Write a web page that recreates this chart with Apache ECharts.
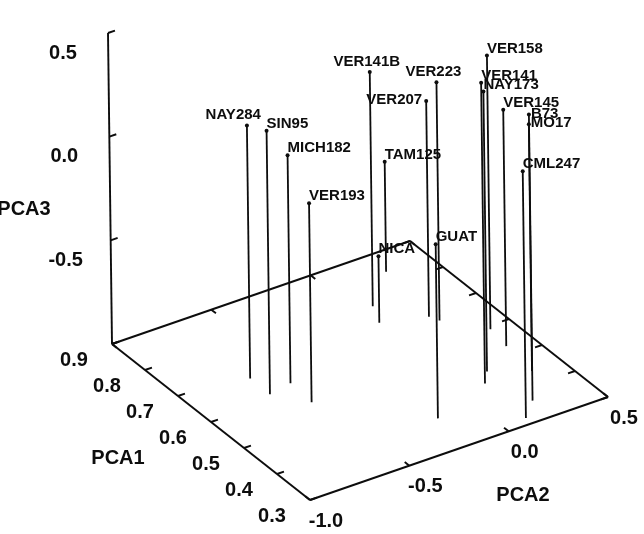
<!DOCTYPE html>
<html>
<head>
<meta charset="utf-8">
<style>
  html, body { margin: 0; padding: 0; background: #fff; }
  #main { width: 644px; height: 534px; }
</style>
<script src="https://cdn.jsdelivr.net/npm/echarts@6/dist/echarts.min.js"></script>
</head>
<body>
<div id="main"></div>
<script>
// lines (accessions), with their three principal component scores
const names = ['NAY284', 'SIN95', 'MICH182', 'VER193', 'VER141B', 'NICA', 'TAM125', 'VER207', 'VER223',
  'GUAT', 'VER141', 'VER158', 'NAY173', 'VER145', 'B73', 'MO17', 'CML247']
const pca1 = [0.68, 0.62, 0.63, 0.56, 0.76, 0.71, 0.84, 0.68, 0.66, 0.40, 0.45, 0.59, 0.48, 0.53, 0.36, 0.44, 0.32]
const pca2 = [-0.67, -0.67, -0.55, -0.56, 0.08, 0.03, 0.28, 0.23, 0.25, -0.19, 0.13, 0.39, 0.19, 0.37, 0.22, 0.35, 0.12]
const pca3 = [0.22, 0.27, 0.10, -0.04, 0.13, -0.68, -0.47, 0.04, 0.15, -0.16, 0.45, 0.32, 0.35, 0.14, 0.38, 0.19, 0.19]
// where each name sits next to its point
const labelSide = ['nw', 'ne', 'ne', 'ne', 'n', 'ne', 'ne', 'w', 'n', 'ne', 'ne', 'ne', 'ne', 'ne', 'e', 'e', 'ne']

const pca1Ticks = [0.3, 0.4, 0.5, 0.6, 0.7, 0.8, 0.9]
const pca2Ticks = [-1.0, -0.5, 0.0, 0.5]
const pca3Ticks = [-0.5, 0.0, 0.5]

const x1 = [0.3, 0.9], x2 = [-1.0, 0.5], x3 = [-1.0, 0.5]

// simple oblique view of the box, in the units of a hidden 2d grid
const view = {ox: 112, oy: 344, e1: [198, 156], e2: [298, -103], e3: [-4, -311]}
function project (a, b, c) {
  const s = (x1[1] - a) / (x1[1] - x1[0])
  const t = (b - x2[0]) / (x2[1] - x2[0])
  const u = (c - x3[0]) / (x3[1] - x3[0])
  return [
    view.ox + s * view.e1[0] + t * view.e2[0] + u * view.e3[0],
    view.oy + s * view.e1[1] + t * view.e2[1] + u * view.e3[1]
  ]
}

const black = '#0d0d0d'
const txtFont = 'bold 15px "Liberation Sans", Arial, sans-serif'
const tickFont = 'bold 20px "Liberation Sans", Arial, sans-serif'

// box edges + tick marks as 3d segments
const segs = []
const lo1 = x1[0], hi1 = x1[1], lo2 = x2[0], hi2 = x2[1], lo3 = x3[0], hi3 = x3[1]
segs.push([hi1, lo2, lo3, lo1, lo2, lo3])
segs.push([lo1, lo2, lo3, lo1, hi2, lo3])
segs.push([lo1, hi2, lo3, hi1, hi2, lo3])
segs.push([hi1, hi2, lo3, hi1, lo2, lo3])
segs.push([hi1, lo2, lo3, hi1, lo2, hi3])
const tk2 = 0.035, tk1 = 0.014
pca1Ticks.forEach(v => {
  segs.push([v, lo2, lo3, v, lo2 + tk2, lo3])
  segs.push([v, hi2, lo3, v, hi2 - tk2, lo3])
})
pca2Ticks.forEach(v => {
  segs.push([lo1, v, lo3, lo1 + tk1, v, lo3])
  segs.push([hi1, v, lo3, hi1 - tk1, v, lo3])
})
pca3Ticks.concat([lo3]).forEach(v => {
  segs.push([hi1, lo2, v, hi1, lo2 + tk2, v])
})

const tickTexts = []
pca1Ticks.forEach(v => tickTexts.push([v, lo2, lo3, v.toFixed(1), -38, 16]))
pca2Ticks.forEach(v => tickTexts.push([lo1, v, lo3, v.toFixed(1), 16, 21]))
pca3Ticks.forEach(v => tickTexts.push([hi1, lo2, v, v.toFixed(1), -45, 20]))
tickTexts.push([0.6, lo2, lo3, 'PCA1', -93, 36])
tickTexts.push([lo1, -0.25, lo3, 'PCA2', 64, 47])
tickTexts.push([hi1, lo2, -0.25, 'PCA3', -86, 21])

const place = {
  ne: {dx: 0, dy: -7, align: 'left'},
  n: {dx: -3, dy: -10, align: 'center'},
  nw: {dx: 14, dy: -11, align: 'right'},
  w: {dx: -4, dy: -1, align: 'right'},
  e: {dx: 2, dy: -1, align: 'left'}
}

const option = {
  animation: false,
  backgroundColor: '#fff',
  grid: {left: 0, right: 0, top: 0, bottom: 0},
  xAxis: {type: 'value', min: 0, max: 644, show: false},
  yAxis: {type: 'value', min: 0, max: 534, inverse: true, show: false},
  series: [
    {
      type: 'custom',
      silent: true,
      data: segs,
      renderItem: function (params, api) {
        const p = api.coord(project(api.value(0), api.value(1), api.value(2)))
        const q = api.coord(project(api.value(3), api.value(4), api.value(5)))
        return {type: 'line', shape: {x1: p[0], y1: p[1], x2: q[0], y2: q[1]},
          style: {stroke: black, lineWidth: 1.9}}
      }
    },
    {
      type: 'custom',
      silent: true,
      data: names.map((n, i) => [pca1[i], pca2[i], pca3[i], i]),
      renderItem: function (params, api) {
        const a = api.value(0), b = api.value(1), c = api.value(2), i = api.value(3)
        const top = api.coord(project(a, b, c))
        const bot = api.coord(project(a, b, lo3))
        const pl = place[labelSide[i]]
        return {type: 'group', children: [
          {type: 'line', shape: {x1: top[0], y1: top[1], x2: bot[0], y2: bot[1]},
            style: {stroke: black, lineWidth: 1.8}},
          {type: 'circle', shape: {cx: top[0], cy: top[1], r: 2}, style: {fill: black}},
          {type: 'text', x: top[0] + pl.dx, y: top[1] + pl.dy,
            style: {text: names[i], font: txtFont, fill: black, align: pl.align, verticalAlign: 'middle'}}
        ]}
      }
    },
    {
      type: 'custom',
      silent: true,
      data: tickTexts,
      renderItem: function (params, api) {
        const d = tickTexts[params.dataIndex]
        const p = api.coord(project(d[0], d[1], d[2]))
        return {type: 'text', x: p[0] + d[4], y: p[1] + d[5],
          style: {text: d[3], font: tickFont, fill: black, align: 'center', verticalAlign: 'middle'}}
      }
    }
  ]
}
echarts.init(document.getElementById('main')).setOption(option)
</script>
</body>
</html>
